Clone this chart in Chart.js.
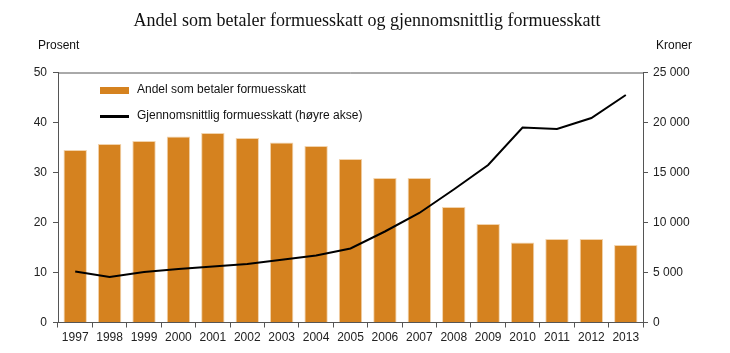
<!DOCTYPE html>
<html>
<head>
<meta charset="utf-8">
<script src="https://cdn.jsdelivr.net/npm/chart.js@4"></script>
<style>
html,body{margin:0;padding:0;background:#fff;}
#wrap{width:730px;height:353px;}
</style>
</head>
<body>
<div id="wrap"><canvas id="chart" width="730" height="353"></canvas></div>
<script>
// data
const years = ["1997","1998","1999","2000","2001","2002","2003","2004","2005","2006","2007","2008","2009","2010","2011","2012","2013"];
const andel = [34.5,35.7,36.3,37.2,37.9,36.9,36.0,35.3,32.7,28.9,28.9,23.1,19.7,16.0,16.7,16.7,15.5];
const snitt = [5100,4550,5050,5350,5600,5850,6270,6700,7400,9100,10950,13300,15750,19500,19350,20450,22750];
const leftTicks = [0,10,20,30,40,50];
const rightTicks = [0,5000,10000,15000,20000,25000];

const titleText = "Andel som betaler formuesskatt og gjennomsnittlig formuesskatt";
const orange = "#D5821F";
const sans = "'Liberation Sans', Arial, sans-serif";

function kr(v){
  return String(v).replace(/\B(?=(\d{3})+(?!\d))/g," ");
}

const decor = {
  id:"decor",
  afterDraw(chart){
    const c = chart.ctx, a = chart.chartArea;
    c.save();
    // top border
    c.strokeStyle="#555"; c.lineWidth=1;
    c.beginPath(); c.moveTo(a.left,a.top+0.5); c.lineTo(a.right,a.top+0.5); c.stroke();
    // title and unit labels
    c.fillStyle="#111";
    c.font="18px 'Liberation Serif', 'Times New Roman', serif";
    c.textAlign="center"; c.textBaseline="middle";
    c.fillText(titleText,367,21);
    c.font="12px "+sans;
    c.textAlign="left";
    c.fillText("Prosent",38,46);
    c.textAlign="right";
    c.fillText("Kroner",692,46);
    // legend inside plot
    const bars = chart.data.datasets[1], line = chart.data.datasets[0];
    c.textAlign="left";
    c.fillStyle=bars.backgroundColor;
    c.fillRect(100,87,29,7);
    c.fillStyle="#111";
    c.fillText(bars.label,137,90);
    c.strokeStyle=line.borderColor; c.lineWidth=3;
    c.beginPath(); c.moveTo(100,116.5); c.lineTo(129,116.5); c.stroke();
    c.fillText(line.label,137,116);
    c.restore();
  }
};

new Chart(document.getElementById("chart"),{
  type:"bar",
  data:{
    labels:years,
    datasets:[
      {
        type:"line",
        label:"Gjennomsnittlig formuesskatt (høyre akse)",
        data:snitt,
        yAxisID:"y2",
        borderColor:"#000",
        backgroundColor:"#000",
        borderWidth:2,
        pointRadius:0,
        tension:0,
        order:0
      },
      {
        label:"Andel som betaler formuesskatt",
        data:andel,
        yAxisID:"y",
        backgroundColor:orange,
        borderColor:"#F2D3AC",
        borderWidth:1,
        barPercentage:0.68,
        categoryPercentage:1,
        order:1
      }
    ]
  },
  options:{
    responsive:false,
    animation:false,
    layout:{padding:{top:72.5,left:0,right:0,bottom:0}},
    plugins:{legend:{display:false},tooltip:{enabled:false},title:{display:false}},
    scales:{
      x:{
        offset:true,
        grid:{offset:true,drawOnChartArea:false,drawTicks:true,tickLength:5,color:"#555"},
        border:{display:true,color:"#555"},
        ticks:{color:"#222",font:{family:sans,size:12},padding:3,maxRotation:0,autoSkip:false},
        afterFit(s){s.height=30.5;}
      },
      y:{
        position:"left",
        min:0,max:50,
        afterBuildTicks(s){s.ticks=leftTicks.map(v=>({value:v}));},
        grid:{drawOnChartArea:false,drawTicks:true,tickLength:5,color:"#555"},
        border:{display:true,color:"#555"},
        ticks:{color:"#222",font:{family:sans,size:12},padding:6},
        afterFit(s){s.width=58;}
      },
      y2:{
        position:"right",
        min:0,max:25000,
        afterBuildTicks(s){s.ticks=rightTicks.map(v=>({value:v}));},
        grid:{drawOnChartArea:false,drawTicks:true,tickLength:5,color:"#555"},
        border:{display:true,color:"#555"},
        ticks:{color:"#222",font:{family:sans,size:12},padding:5,callback:v=>kr(v)},
        afterFit(s){s.width=87;}
      }
    }
  },
  plugins:[decor]
});
</script>
</body>
</html>
